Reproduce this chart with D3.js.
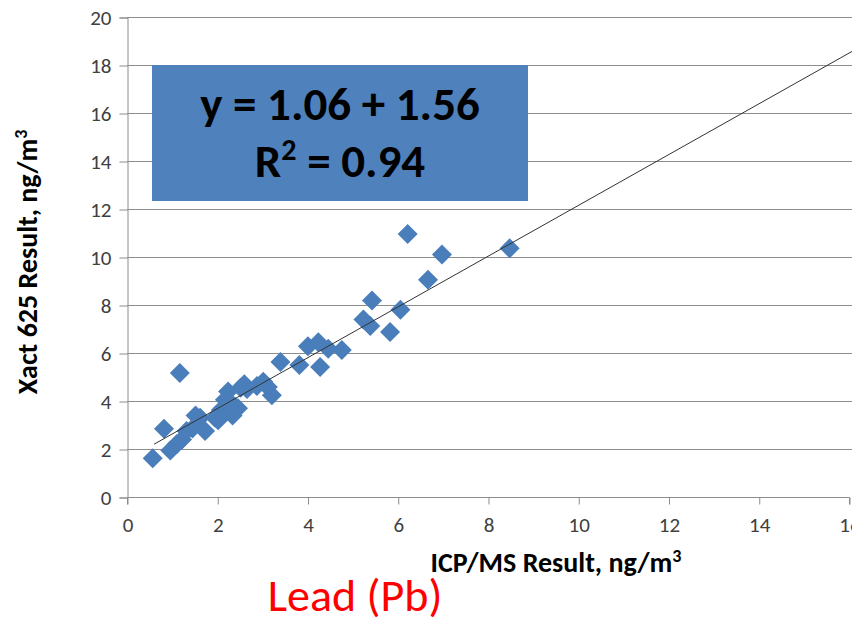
<!DOCTYPE html>
<html>
<head>
<meta charset="utf-8">
<script src="https://d3js.org/d3.v7.min.js"></script>
<style>
  body { margin: 0; background: #fff; }
  svg { display: block; }
</style>
</head>
<body>
<script>
'use strict';

// ICP/MS (x) vs Xact 625 (y) lead results, ng/m3
const icpValues = [0.57, 0.82, 1.17, 0.96, 1.10, 1.22, 1.32, 1.45, 1.52, 1.62,
  1.73, 1.95, 2.02, 2.08, 2.17, 2.24, 2.28, 2.34, 2.40, 2.46, 2.52, 2.60,
  2.66, 2.88, 3.02, 3.12, 3.21, 3.40, 3.82, 4.01, 4.24, 4.28, 4.46, 4.76,
  5.24, 5.39, 5.43, 5.83, 6.06, 6.22, 6.67, 6.98, 8.48];
const xactValues = [1.61, 2.84, 5.17, 1.94, 2.20, 2.40, 2.75, 2.85, 3.40, 3.30,
  2.75, 3.30, 3.20, 3.62, 4.05, 4.40, 3.95, 3.40, 3.75, 3.70, 4.55, 4.70,
  4.50, 4.62, 4.80, 4.58, 4.24, 5.63, 5.50, 6.28, 6.45, 5.42, 6.18, 6.12,
  7.40, 7.12, 8.19, 6.88, 7.80, 10.96, 9.05, 10.10, 10.36];

// trend line end points (x, y)
const trendX = [0.6, 16.1];
const trendY = [2.2, 18.6];

const xTicks = [0, 2, 4, 6, 8, 10, 12, 14, 16];
const yTicks = [0, 2, 4, 6, 8, 10, 12, 14, 16, 18, 20];
const eqLine1 = 'y = 1.06 + 1.56';
const eqLine2 = ['R', '2', ' = 0.94'];

const FONT = "Carlito, Calibri, Lato, 'Open Sans', sans-serif";

(function() {
  const width = 852, height = 621;
  const svg = d3.select('body').append('svg')
    .attr('width', width)
    .attr('height', height);

  const xScale = d3.scaleLinear().domain([0, 16]).range([127, 849]);
  const yScale = d3.scaleLinear().domain([0, 20]).range([497, 17]);

  // horizontal gridlines
  svg.append('g')
    .selectAll('line')
    .data(yTicks.filter(d => d > 0))
    .enter()
    .append('line')
    .attr('x1', xScale(0))
    .attr('x2', width)
    .attr('y1', d => yScale(d) + 0.5)
    .attr('y2', d => yScale(d) + 0.5)
    .attr('stroke', '#8c8c8c')
    .attr('stroke-width', 1);

  // y axis
  const yAxis = d3.axisLeft(yScale).tickValues(yTicks).tickSize(8).tickPadding(8);
  const gy = svg.append('g')
    .attr('transform', 'translate(' + (xScale(0) + 0.5) + ',0.5)')
    .call(yAxis);
  gy.select('.domain').attr('stroke', '#8c8c8c');
  gy.selectAll('.tick line').attr('stroke', '#8c8c8c');
  gy.selectAll('.tick text')
    .style('font-family', FONT)
    .style('font-size', '21px')
    .attr('fill', '#404040');

  // x axis
  const xAxis = d3.axisBottom(xScale).tickValues(xTicks).tickSize(7).tickPadding(13);
  const gx = svg.append('g')
    .attr('transform', 'translate(0.5,' + (yScale(0) + 0.5) + ')')
    .call(xAxis);
  gx.select('.domain').attr('stroke', '#8c8c8c').attr('d', 'M' + xScale(0) + ',7V0H' + xScale(16) + 'V7');
  gx.selectAll('.tick line').attr('stroke', '#8c8c8c');
  gx.selectAll('.tick text')
    .style('font-family', FONT)
    .style('font-size', '21px')
    .attr('fill', '#404040');

  // equation box
  svg.append('rect')
    .attr('x', 152)
    .attr('y', 65)
    .attr('width', 376)
    .attr('height', 136)
    .attr('fill', '#4f81bd');

  svg.append('text')
    .attr('x', 340)
    .attr('y', 120)
    .attr('text-anchor', 'middle')
    .style('font-family', FONT)
    .style('font-size', '47px')
    .style('font-weight', 'bold')
    .attr('fill', '#000')
    .text(eqLine1);

  const r2 = svg.append('text')
    .attr('x', 340)
    .attr('y', 177)
    .attr('text-anchor', 'middle')
    .style('font-family', FONT)
    .style('font-size', '47px')
    .style('font-weight', 'bold')
    .attr('fill', '#000');
  r2.append('tspan').text(eqLine2[0]);
  r2.append('tspan').attr('dy', -17).style('font-size', '30px').text(eqLine2[1]);
  r2.append('tspan').attr('dy', 17).text(eqLine2[2]);

  // data points as diamonds
  const pts = icpValues.map((x, i) => ({x: x, y: xactValues[i]}));
  svg.append('g')
    .selectAll('path')
    .data(pts)
    .enter()
    .append('path')
    .attr('d', d3.symbol().type(d3.symbolSquare).size(200))
    .attr('transform', d => 'translate(' + xScale(d.x) + ',' + yScale(d.y) + ') rotate(45)')
    .attr('fill', '#4a7ebb');

  // trend line
  const line = d3.line()
    .x(d => xScale(d[0]))
    .y(d => yScale(d[1]));
  svg.append('path')
    .datum(trendX.map((x, i) => [x, trendY[i]]))
    .attr('d', line)
    .attr('fill', 'none')
    .attr('stroke', '#333')
    .attr('stroke-width', 1);

  // axis titles
  const xt = svg.append('text')
    .attr('x', 556)
    .attr('y', 572)
    .attr('text-anchor', 'middle')
    .style('font-family', FONT)
    .style('font-size', '28px')
    .style('font-weight', 'bold')
    .attr('fill', '#000');
  xt.append('tspan').text('ICP/MS Result, ng/m');
  xt.append('tspan').attr('dy', -10).style('font-size', '18px').text('3');

  const yt = svg.append('text')
    .attr('transform', 'translate(37,262) rotate(-90)')
    .attr('text-anchor', 'middle')
    .style('font-family', FONT)
    .style('font-size', '28px')
    .style('font-weight', 'bold')
    .attr('fill', '#000');
  yt.append('tspan').text('Xact 625 Result, ng/m');
  yt.append('tspan').attr('dy', -10).style('font-size', '18px').text('3');

  // element caption
  svg.append('text')
    .attr('x', 355)
    .attr('y', 611)
    .attr('text-anchor', 'middle')
    .style('font-family', FONT)
    .style('font-size', '46px')
    .attr('fill', '#ff0000')
    .text('Lead (Pb)');
})();
</script>
</body>
</html>
